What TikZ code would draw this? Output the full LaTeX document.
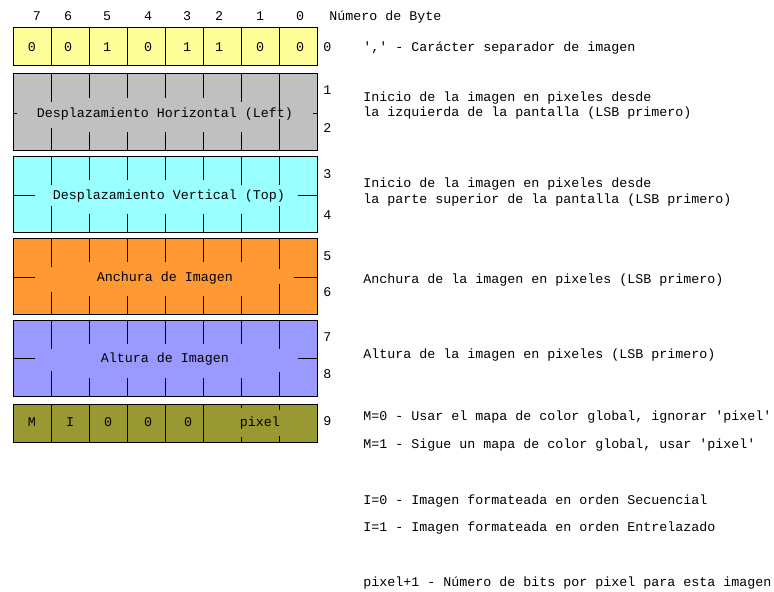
\documentclass[tikz,border=0pt]{standalone}
\usepackage{fontspec}
\setmonofont{Liberation Mono}
\definecolor{sepyellow}{HTML}{FFFF99}
\definecolor{leftgray}{HTML}{C0C0C0}
\definecolor{topcyan}{HTML}{99FFFF}
\definecolor{widthorange}{HTML}{FF9933}
\definecolor{heightblue}{HTML}{9999FF}
\definecolor{flagolive}{HTML}{999933}

\begin{document}
\begin{tikzpicture}[x=0.75pt, y=-0.75pt,
        txt/.style={font=\ttfamily, inner sep=0pt, anchor=base},
        desc/.style={txt, anchor=base west},
        field/.style={draw=black, line width=0.75pt},
        tick/.style={black, line width=0.75pt}]
        \useasboundingbox (0,0) rectangle (774,592);
        % Bit numbers on top
        \foreach \x/\b in {37/7, 68/6, 107/5, 148/4, 187/3, 219/2, 260/1, 300/0}
            \node[txt] (bit\b) at (\x,21) {\b};
        \node[desc] (bytehdr) at (329,21) {Número de Byte};
        % Byte numbers on the right
        \foreach \y/\n in {52/0, 94/1, 132/2, 178/3, 219/4, 260/5, 296/6, 341/7, 378/8, 425/9}
            \node[desc] (byte\n) at (323,\y) {\n};
        % Byte 0: image separator
        \draw[field, fill=sepyellow] (13,28) rectangle (317,66);
        \foreach \x in {51,89,...,279}
            \draw[tick] (\x,28) -- (\x,66);
        \foreach \x/\v [count=\i] in {32/0, 68/0, 107/1, 148/0, 187/1, 219/1, 260/0, 300/0}
            \node[txt] (sep\i) at (\x,52) {\v};
        % Bytes 1-2: left offset
        \draw[field, fill=leftgray] (13,74) rectangle (317,150);
        \foreach \x/\a/\b in {51/102/128, 89/98/132, 127/98/132, 165/98/132, 203/98/132, 241/102/132, 279/110/119}
            \draw[tick] (\x,74) -- (\x,\a) (\x,\b) -- (\x,150);
        \draw[tick] (13,113) -- (17,113) (313,113) -- (317,113);
        \node[txt] (left) at (165,117) {Desplazamiento Horizontal (Left)};
        % Bytes 3-4: top offset
        \draw[field, fill=topcyan] (13,156) rectangle (317,232);
        \foreach \x/\a/\b in {51/185/206, 89/180/214, 127/180/214, 165/180/214, 203/180/214, 241/185/214, 279/185/206}
            \draw[tick] (\x,156) -- (\x,\a) (\x,\b) -- (\x,232);
        \draw[tick] (13,195) -- (35,195) (298,195) -- (317,195);
        \node[txt] (top) at (169,199) {Desplazamiento Vertical (Top)};
        % Bytes 5-6: width
        \draw[field, fill=widthorange] (13,238) rectangle (317,314);
        \foreach \x/\a/\b in {51/267/292, 89/262/296, 127/262/296, 165/262/296, 203/262/296, 241/262/296, 279/269/284}
            \draw[tick] (\x,238) -- (\x,\a) (\x,\b) -- (\x,314);
        \draw[tick] (13,277) -- (35,277) (294,277) -- (317,277);
        \node[txt] (width) at (165,281) {Anchura de Imagen};
        % Bytes 7-8: height
        \draw[field, fill=heightblue] (13,320) rectangle (317,396);
        \foreach \x/\a/\b in {51/349/371, 89/344/378, 127/344/378, 165/344/378, 203/344/378, 241/344/378, 279/349/372}
            \draw[tick] (\x,320) -- (\x,\a) (\x,\b) -- (\x,396);
        \draw[tick] (13,358) -- (35,358) (298,358) -- (317,358);
        \node[txt] (height) at (165,362) {Altura de Imagen};
        % Byte 9: flags
        \draw[field, fill=flagolive] (13,404) rectangle (317,442);
        \foreach \x/\a/\b in {51/442/442, 89/442/442, 127/442/442, 165/442/442, 203/442/442, 241/408/437, 279/410/436}
            \draw[tick] (\x,404) -- (\x,\a) (\x,\b) -- (\x,442);
        \foreach \x/\v/\n in {32/M/m, 70/I/i, 108/0/a, 148/0/b, 188/0/c, 260/pixel/pix}
            \node[txt] (flag\n) at (\x,426) {\v};
        % Descriptions
        \node[desc] (descsep) at (363,52) {',' - Carácter separador de imagen};
        \node[desc] (descleftA) at (363,101) {Inicio de la imagen en pixeles desde};
        \node[desc] (descleftB) at (363,116) {la izquierda de la pantalla (LSB primero)};
        \node[desc] (desctopA) at (363,187) {Inicio de la imagen en pixeles desde};
        \node[desc] (desctopB) at (363,203) {la parte superior de la pantalla (LSB primero)};
        \node[desc] (descwidth) at (363,283) {Anchura de la imagen en pixeles (LSB primero)};
        \node[desc] (descheight) at (363,358) {Altura de la imagen en pixeles (LSB primero)};
        \node[desc] (descmA) at (363,420) {M=0 - Usar el mapa de color global, ignorar 'pixel'};
        \node[desc] (descmB) at (363,448) {M=1 - Sigue un mapa de color global, usar 'pixel'};
        \node[desc] (desciA) at (363,504) {I=0 - Imagen formateada en orden Secuencial};
        \node[desc] (desciB) at (363,531) {I=1 - Imagen formateada en orden Entrelazado};
        \node[desc] (descpix) at (363,586) {pixel+1 - Número de bits por pixel para esta imagen};
    \end{tikzpicture}
\end{document}
